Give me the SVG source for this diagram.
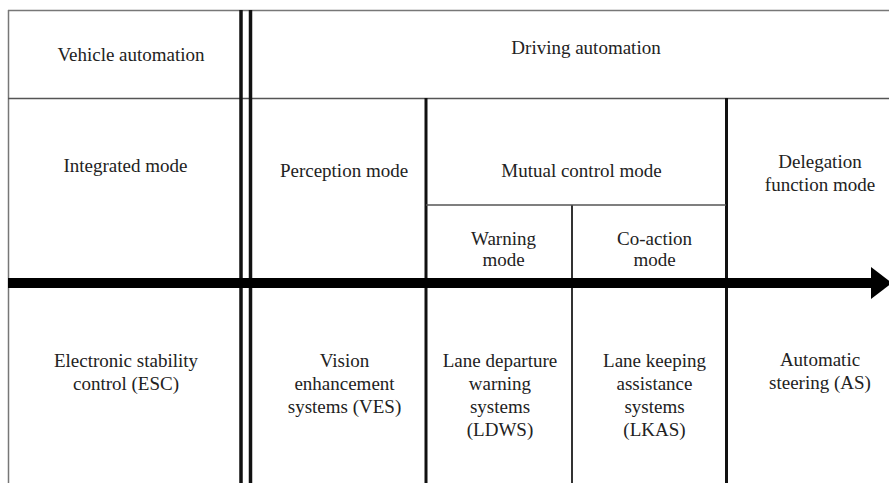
<svg xmlns="http://www.w3.org/2000/svg" width="889" height="483" viewBox="0 0 889 483">
<style>
text{font-family:'Liberation Serif','Times New Roman',serif;font-size:19px;fill:#222;text-anchor:middle}
.thin{stroke:#777;stroke-width:1.5;fill:none}
.mid{stroke:#555;stroke-width:1.5;fill:none}
.thick{stroke:#111;stroke-width:3.5;fill:none}
.med{stroke:#111;stroke-width:3;fill:none}
.sub{stroke:#333;stroke-width:2;fill:none}
</style>
<rect x="0" y="0" width="889" height="483" fill="#fff"/>
<g id="grid">
<line class="thin" x1="8" y1="10.5" x2="889" y2="10.5"/>
<line class="thin" x1="8.5" y1="10" x2="8.5" y2="483"/>
<line class="mid" x1="8" y1="98.5" x2="889" y2="98.5"/>
<line class="thick" x1="241" y1="10" x2="241" y2="483"/>
<line class="thick" x1="250.5" y1="10" x2="250.5" y2="483"/>
<line class="med" x1="426" y1="98" x2="426" y2="483"/>
<line class="med" x1="726.5" y1="98" x2="726.5" y2="483"/>
<line class="sub" x1="572" y1="205" x2="572" y2="483"/>
<line class="mid" x1="426" y1="205" x2="726" y2="205"/>
</g>
<g id="connectors">
<rect x="8" y="278" width="865" height="10" fill="#000"/>
<polygon points="871,267 892,283 871,299" fill="#000"/>
</g>
<g id="vehicle-automation"><text x="131" y="61">Vehicle automation</text></g>
<g id="driving-automation"><text x="586" y="54">Driving automation</text></g>
<g id="integrated-mode"><text x="125.5" y="172">Integrated mode</text></g>
<g id="perception-mode"><text x="344" y="177">Perception mode</text></g>
<g id="mutual-control-mode"><text x="581.5" y="177">Mutual control mode</text></g>
<g id="delegation-function-mode"><text x="820" y="168">Delegation</text><text x="820" y="191">function mode</text></g>
<g id="warning-mode"><text x="503.5" y="245">Warning</text><text x="503.5" y="266">mode</text></g>
<g id="co-action-mode"><text x="654.5" y="245">Co-action</text><text x="654.5" y="266">mode</text></g>
<g id="esc"><text x="126" y="367">Electronic stability</text><text x="126" y="390">control (ESC)</text></g>
<g id="ves"><text x="344.5" y="367">Vision</text><text x="344.5" y="390">enhancement</text><text x="344.5" y="413">systems (VES)</text></g>
<g id="ldws"><text x="500" y="367">Lane departure</text><text x="500" y="390">warning</text><text x="500" y="413">systems</text><text x="500" y="436">(LDWS)</text></g>
<g id="lkas"><text x="654.5" y="367">Lane keeping</text><text x="654.5" y="390">assistance</text><text x="654.5" y="413">systems</text><text x="654.5" y="436">(LKAS)</text></g>
<g id="as"><text x="820" y="366">Automatic</text><text x="820" y="389">steering (AS)</text></g>
</svg>
